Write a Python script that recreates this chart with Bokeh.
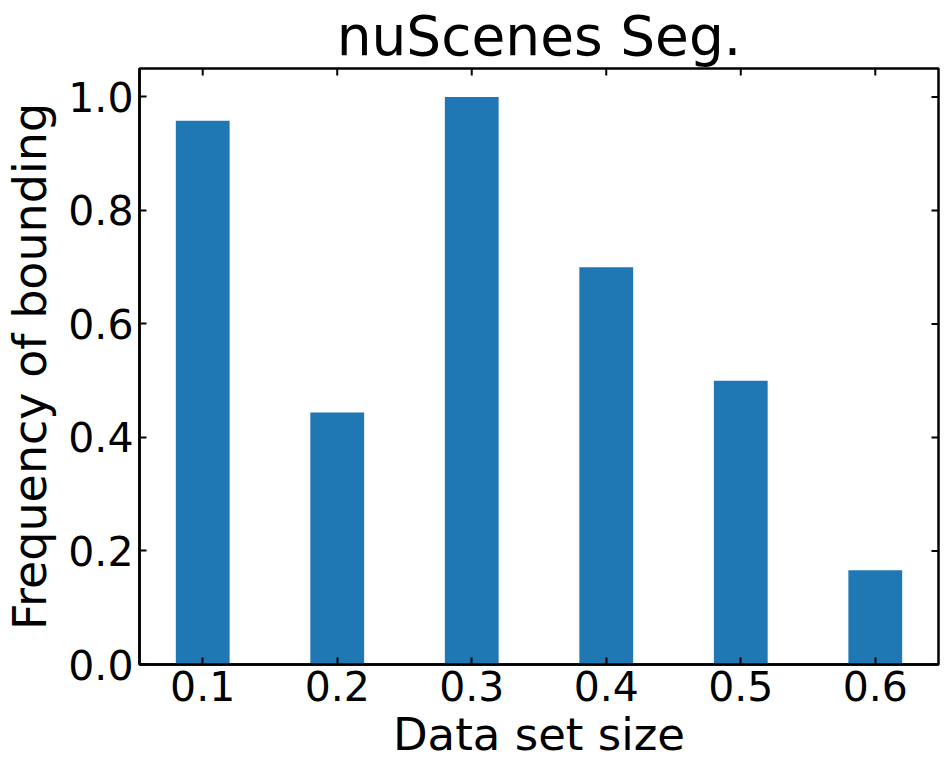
import math
from bokeh.plotting import figure
from bokeh.models import Range1d, FixedTicker
from bokeh.embed import file_html
from bokeh.resources import INLINE

categories = ["0.1", "0.2", "0.3", "0.4", "0.5", "0.6"]
values = [0.958, 0.444, 1.0, 0.70, 0.50, 0.166]
y_ticks = [0.0, 0.2, 0.4, 0.6, 0.8, 1.0]

xs = list(range(len(categories)))
FONT = "DejaVu Sans"
X0, X1 = -0.47, len(categories) - 1 + 0.47
Y0, Y1 = 0.0, 1.05

p = figure(frame_width=799, frame_height=596, output_backend="svg", toolbar_location=None,
           x_range=Range1d(X0, X1), y_range=Range1d(Y0, Y1),
           min_border_left=132, min_border_right=5, min_border_top=63, min_border_bottom=96,
           title="nuScenes Seg.")
p.vbar(x=xs, top=values, width=0.4, bottom=0, fill_color="#1f77b4", line_color=None)

# inward ticks on the top and right frame edges (half of each dash is clipped by the frame)
p.scatter(x=xs, y=[Y1] * len(xs), marker="dash", angle=math.pi / 2, size=14,
          line_color="black", line_width=2)
p.scatter(x=[X1] * len(y_ticks), y=y_ticks, marker="dash", size=14,
          line_color="black", line_width=2)

p.grid.visible = False
p.background_fill_color = "white"
p.border_fill_color = "white"
p.outline_line_color = "black"
p.outline_line_width = 2.5

p.title.align = "center"
p.title.text_font = FONT
p.title.text_font_size = "55px"
p.title.text_font_style = "normal"
p.title.text_color = "black"
p.title.standoff = 2

xa = p.xaxis[0]
xa.ticker = FixedTicker(ticks=xs)
xa.major_label_overrides = {i: c for i, c in zip(xs, categories)}
ya = p.yaxis[0]
ya.ticker = FixedTicker(ticks=y_ticks)
ya.major_label_overrides = {t: f"{t:.1f}" for t in y_ticks}

for ax in (xa, ya):
    ax.axis_line_width = 2.5
    ax.axis_line_color = "black"
    ax.major_tick_in = 7
    ax.major_tick_out = 0
    ax.major_tick_line_width = 2
    ax.minor_tick_line_color = None
    ax.major_label_text_font = FONT
    ax.major_label_text_font_size = "41px"
    ax.major_label_text_color = "black"
    ax.axis_label_text_font = FONT
    ax.axis_label_text_font_size = "45px"
    ax.axis_label_text_font_style = "normal"
    ax.axis_label_text_color = "black"
    ax.major_label_standoff = 6

xa.axis_label = "Data set size"
xa.axis_label_standoff = 4
ya.axis_label = "Frequency of bounding"
ya.axis_label_text_font_size = "46px"
ya.axis_label_standoff = 8

open("out.html", "w").write(file_html(p, INLINE))
